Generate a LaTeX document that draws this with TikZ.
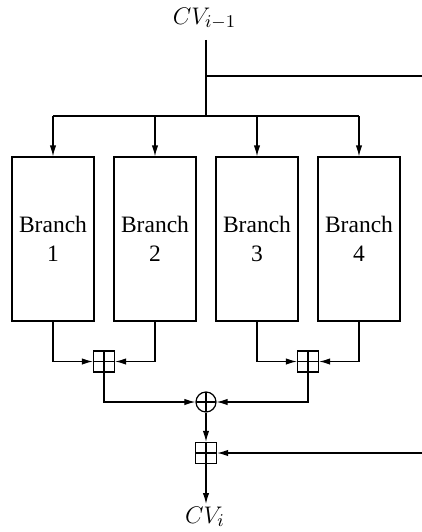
\documentclass[tikz,border=0pt]{standalone}
\usepackage{fontspec}
\setmainfont{Liberation Serif}
\usetikzlibrary{arrows.meta}
\begin{document}
\begin{tikzpicture}[x=0.5pt,y=-0.5pt, line width=0.6pt,
  >={Latex[length=5.5pt,width=3.2pt]},
  crossed/.style={path picture={\draw[line width=0.6pt] (path picture bounding box.north) -- (path picture bounding box.south) (path picture bounding box.west) -- (path picture bounding box.east);}},
  branchbox/.style={draw, minimum width=41pt, minimum height=82pt, align=center, inner sep=0pt, font=\fontsize{11.75}{14.5}\selectfont},
  addbox/.style={draw, minimum size=10.5pt, inner sep=0pt, crossed},
  xorc/.style={draw, circle, minimum size=10pt, inner sep=0pt, crossed},
  lbl/.style={font=\fontsize{13}{15}\selectfont, inner xsep=0pt}]
\useasboundingbox (0,0) rectangle (422,532);
\node[branchbox] (b1) at (53,239) {Branch\\1};
\node[branchbox] (b2) at (155,239) {Branch\\2};
\node[branchbox] (b3) at (257,239) {Branch\\3};
\node[branchbox] (b4) at (359,239) {Branch\\4};
\node[addbox] (s1) at (104,361.5) {};
\node[addbox] (s2) at (308,361.5) {};
\node[xorc] (x) at (206,402) {};
\node[addbox] (s3) at (206,453) {};
\node[lbl, anchor=base, inner ysep=5pt] (cvin) at (204.5,24) {$CV_{i-1}$};
\node[lbl, anchor=base, inner ysep=1pt] (cvout) at (205,523) {$CV_i$};
\coordinate (j1) at (206,76);
\coordinate (j2) at (206,116);
\coordinate (rt1) at (422,76);
\coordinate (rt2) at (422,453);
\draw (cvin.south -| j1) -- (j1) -- (j2);
\draw (j1) -- (rt1);
\draw (b1.north |- j2) -- (b4.north |- j2);
\foreach \b in {b1,b2,b3,b4} \draw[->] (\b.north |- j2) -- (\b.north);
\draw[->] (b1.south) |- (s1.west);
\draw[->] (b2.south) |- (s1.east);
\draw[->] (b3.south) |- (s2.west);
\draw[->] (b4.south) |- (s2.east);
\draw[->] (s1.south) |- (x.west);
\draw[->] (s2.south) |- (x.east);
\draw[->] (x.south) -- (s3.north);
\draw[->] (rt2) -- (s3.east);
\draw[->] (s3.south) -- (s3.south |- cvout.north);
\end{tikzpicture}
\end{document}
